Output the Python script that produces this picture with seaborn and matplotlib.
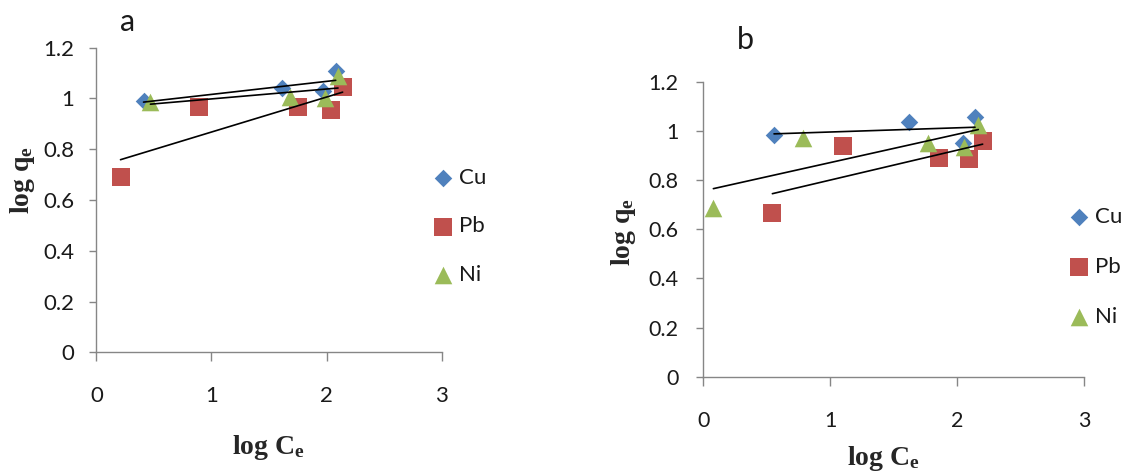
import numpy as np
import pandas as pd
import matplotlib
matplotlib.use("Agg")
import matplotlib.pyplot as plt
import seaborn as sns

# Freundlich isotherm data: log Ce vs log qe for each metal, two sorbents
a_cu_x = [0.41, 1.61, 1.97, 2.08]
a_cu_y = [0.99, 1.04, 1.03, 1.11]
a_pb_x = [0.21, 0.89, 1.75, 2.04, 2.14]
a_pb_y = [0.69, 0.965, 0.965, 0.954, 1.044]
a_ni_x = [0.47, 1.68, 1.99, 2.10]
a_ni_y = [0.985, 1.005, 1.0, 1.09]

b_cu_x = [0.557, 1.623, 2.044, 2.141]
b_cu_y = [0.982, 1.036, 0.949, 1.055]
b_pb_x = [0.544, 1.103, 1.857, 2.094, 2.201]
b_pb_y = [0.667, 0.938, 0.891, 0.887, 0.957]
b_ni_x = [0.079, 0.783, 1.773, 2.054, 2.167]
b_ni_y = [0.688, 0.969, 0.952, 0.936, 1.024]

metals = ["Cu", "Pb", "Ni"]
panel_labels = ["a", "b"]
x_ticks = [0, 1, 2, 3]
y_ticks = [0, 0.2, 0.4, 0.6, 0.8, 1.0, 1.2]
y_tick_labels = ["0", "0.2", "0.4", "0.6", "0.8", "1", "1.2"]

sns.set_theme(style="white")
plt.rcParams["font.family"] = ["Lato", "DejaVu Sans"]
plt.rcParams["mathtext.fontset"] = "custom"
plt.rcParams["mathtext.rm"] = "Liberation Serif"
plt.rcParams["mathtext.bf"] = "Liberation Serif:bold"
plt.rcParams["mathtext.it"] = "Liberation Serif:italic"

colors = {"Cu": "#4F81BD", "Pb": "#C0504D", "Ni": "#9BBB59"}
markers = {"Cu": "D", "Pb": "s", "Ni": "^"}
sizes = {"Cu": 80, "Pb": 155, "Ni": 160}
axis_grey = "#868686"

fig = plt.figure(figsize=(11.47, 4.74), dpi=100)
ax_a = fig.add_axes([0.084, 0.2568, 0.301, 0.6426])
ax_b = fig.add_axes([0.6132, 0.2053, 0.3319, 0.6223])

panels = [
    (ax_a, {"Cu": (a_cu_x, a_cu_y), "Pb": (a_pb_x, a_pb_y), "Ni": (a_ni_x, a_ni_y)}),
    (ax_b, {"Cu": (b_cu_x, b_cu_y), "Pb": (b_pb_x, b_pb_y), "Ni": (b_ni_x, b_ni_y)}),
]

for ax, series in panels:
    for m in metals:
        xs, ys = series[m]
        df = pd.DataFrame({"logCe": xs, "logqe": ys})
        sns.scatterplot(data=df, x="logCe", y="logqe", ax=ax, marker=markers[m],
                        color=colors[m], s=sizes[m], linewidth=0, label=m,
                        zorder=2, legend=True)
    # linear trend lines over each series' data range, drawn above markers
    for m in metals:
        xs, ys = series[m]
        df = pd.DataFrame({"logCe": xs, "logqe": ys})
        sns.regplot(data=df, x="logCe", y="logqe", ax=ax, scatter=False, ci=None,
                    truncate=True, color="black",
                    line_kws={"linewidth": 1.2, "zorder": 3})
    ax.set_xlim(0, 3)
    ax.set_ylim(0, 1.2)
    ax.set_xticks(x_ticks)
    ax.set_yticks(y_ticks)
    ax.set_yticklabels(y_tick_labels)
    for side in ["top", "right"]:
        ax.spines[side].set_visible(False)
    for side in ["left", "bottom"]:
        ax.spines[side].set_color(axis_grey)
        ax.spines[side].set_linewidth(1.0)
    ax.set_xlabel("")
    ax.set_ylabel("")
    ax.get_legend().remove()

ax_a.tick_params(axis="y", direction="out", length=5, width=1, color=axis_grey,
                 left=True, pad=11, labelsize=16, labelcolor="#1a1a1a")
ax_a.tick_params(axis="x", direction="out", length=6.5, width=1, color=axis_grey,
                 bottom=True, pad=18, labelsize=16, labelcolor="#1a1a1a")
ax_b.tick_params(axis="y", direction="out", length=5, width=1, color=axis_grey,
                 left=True, pad=13, labelsize=15.5, labelcolor="#1a1a1a")
ax_b.tick_params(axis="x", direction="out", length=6.5, width=1, color=axis_grey,
                 bottom=True, pad=18, labelsize=15.5, labelcolor="#1a1a1a")

ylab = r"$\mathbf{log\ q_e}$"
xlab = r"$\mathbf{log\ C_e}$"
ax_a.set_ylabel(ylab, fontsize=20)
ax_a.yaxis.set_label_coords(-0.215, 0.566)
ax_a.set_xlabel(xlab, fontsize=20)
ax_a.xaxis.set_label_coords(0.497, -0.311)
ax_b.set_ylabel(ylab, fontsize=20)
ax_b.yaxis.set_label_coords(-0.211, 0.49)
ax_b.set_xlabel(xlab, fontsize=20)
ax_b.xaxis.set_label_coords(0.472, -0.276)
for ax in (ax_a, ax_b):
    ax.xaxis.label.set_va("center")
    ax.yaxis.label.set_va("center")

fig.text(127.7 / 1147, 1 - 21.7 / 474, panel_labels[0], fontsize=22,
         ha="center", va="center", color="#1a1a1a")
fig.text(745.7 / 1147, 1 - 40 / 474, panel_labels[1], fontsize=22,
         ha="center", va="center", color="#1a1a1a")

# legends to the right of each plot area
for ax, (lx, ly, spacing, fs) in [(ax_a, (432 / 1147, 1 - 226.5 / 474, 1.28, 16)),
                                  (ax_b, (1068 / 1147, 1 - 267 / 474, 1.35, 16))]:
    handles, labels = ax.get_legend_handles_labels()
    handles, labels = handles[:3], labels[:3]
    leg = ax.legend(handles, labels, loc="center left", bbox_to_anchor=(lx, ly),
                    bbox_transform=fig.transFigure, frameon=False, fontsize=fs,
                    handlelength=1.0, handletextpad=0.2, borderpad=0,
                    borderaxespad=0, labelspacing=spacing)
    for t in leg.get_texts():
        t.set_color("#1a1a1a")

fig.savefig("out.png", dpi=100)
